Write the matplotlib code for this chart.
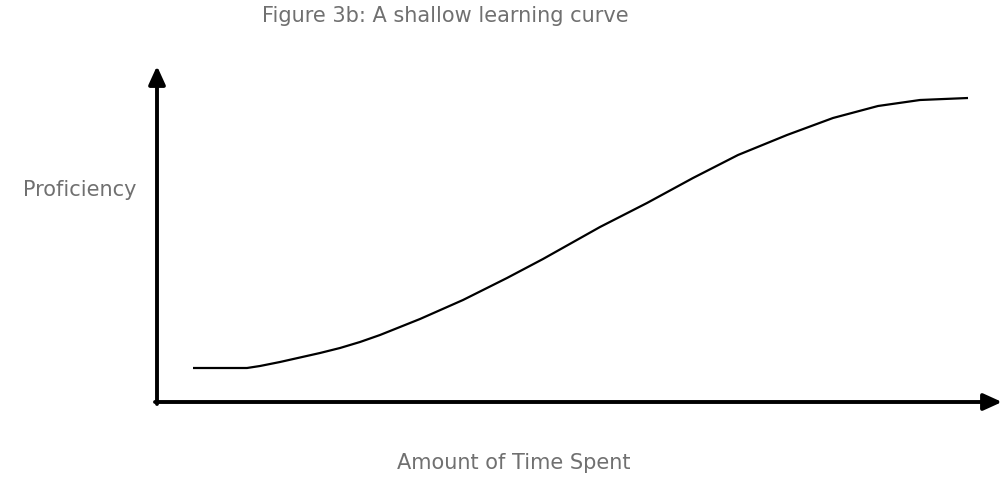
import matplotlib
matplotlib.use("Agg")
import matplotlib.pyplot as plt

# Data (time spent vs proficiency, arbitrary units)
time_spent = [36, 90, 103, 123, 143, 163, 183, 203, 223, 243, 263, 306, 350, 386,
              443, 490, 536, 581, 630, 676, 721, 763, 811]
proficiency = [34, 34, 36, 40, 44.5, 49, 54, 60, 67, 75, 83, 102, 124, 143,
               175, 199, 224, 247, 267, 284, 296, 302, 304]

title_text = "Figure 3b: A shallow learning curve"
x_label = "Amount of Time Spent"
y_label = "Proficiency"

W, H = 1002, 478
fig = plt.figure(figsize=(W / 100, H / 100), dpi=100)
ax = fig.add_axes([0, 0, 1, 1])
ax.set_xlim(-157, W - 157)
ax.set_ylim(402 - H, 402)
ax.axis("off")

ax.plot(time_spent, proficiency, color="black", lw=1.6, solid_capstyle="butt",
        solid_joinstyle="round")

arrow = dict(arrowstyle="-|>,head_length=1.1,head_width=0.5", color="black", lw=2.8,
             shrinkA=0, shrinkB=0)
ax.annotate("", xy=(0, 336), xytext=(0, -2), arrowprops=arrow)
ax.annotate("", xy=(845, 0), xytext=(-2, 0), arrowprops=arrow)

tcol = "#707070"
fig.text(445 / W, 1 - 16 / H, title_text, ha="center", va="center", fontsize=15, color=tcol)
fig.text(80 / W, 1 - 190 / H, y_label, ha="center", va="center", fontsize=15, color=tcol)
fig.text(514 / W, 1 - 463 / H, x_label, ha="center", va="center", fontsize=15, color=tcol)

fig.savefig("out.png", dpi=100)
